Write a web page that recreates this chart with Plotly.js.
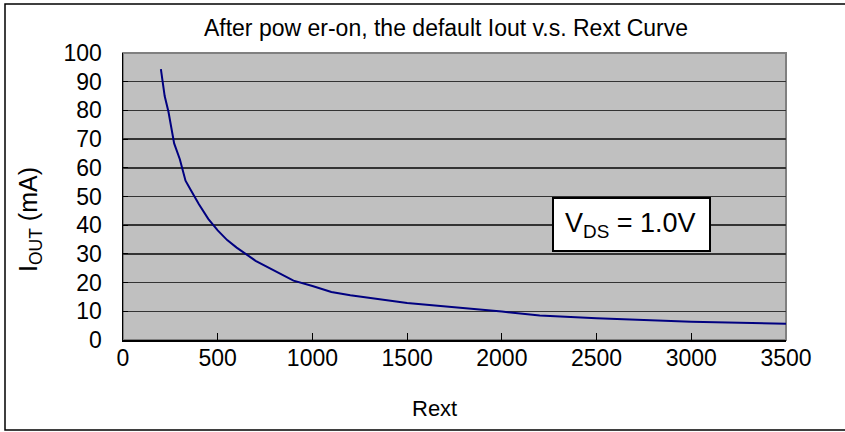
<!DOCTYPE html>
<html>
<head>
<meta charset="utf-8">
<script src="https://cdn.plot.ly/plotly-3.0.1.min.js"></script>
<style>html,body{margin:0;padding:0;background:#fff;overflow:hidden;}#chart{width:845px;height:432px;}</style>
</head>
<body>
<div id="chart"></div>
<script>
// Data
const rext = [200, 220, 240, 270, 300, 330, 360, 400, 450, 500, 550, 600, 700, 800, 850, 900, 1000, 1100, 1200, 1500, 2000, 2200, 2500, 3000, 3500];
const ioutMA = [94.4, 85, 79.5, 68.5, 63, 55.5, 52, 47.4, 42.2, 38.2, 34.8, 32.2, 27.6, 24.2, 22.3, 20.7, 18.8, 16.7, 15.6, 12.9, 9.9, 8.5, 7.6, 6.4, 5.7];
const xTicks = [0, 500, 1000, 1500, 2000, 2500, 3000, 3500];
const yTicks = [0, 10, 20, 30, 40, 50, 60, 70, 80, 90, 100];
const chartTitle = 'After pow er-on, the default Iout v.s. Rext Curve';
const xTitle = 'Rext';
const yTitle = 'I<sub>OUT</sub> (mA)';
const noteText = 'V<sub>DS</sub> = 1.0V';

const FONT = 'Liberation Sans, Arial, sans-serif';
const L = 123, R = 59, T = 53, B = 92;
const PW = 845 - L - R, PH = 432 - T - B;
const px = x => (x - L) / PW;
const py = y => (432 - B - y) / PH;

const trace = {
  x: rext, y: ioutMA, type: 'scatter', mode: 'lines',
  line: {color: '#000080', width: 2},
  hoverinfo: 'skip'
};

const layout = {
  width: 845, height: 432,
  margin: {l: L, r: R, t: T, b: B, pad: 0},
  paper_bgcolor: '#ffffff',
  plot_bgcolor: '#c0c0c0',
  showlegend: false,
  font: {family: FONT, color: '#000', size: 22},
  title: {text: chartTitle, font: {family: FONT, size: 23, color: '#000'},
          xref: 'paper', x: px(446), xanchor: 'center', yref: 'container', y: 1 - 28/432, yanchor: 'middle'},
  xaxis: {
    range: [0, 3500], tickvals: xTicks, ticktext: xTicks.map(String),
    showgrid: false, zeroline: false,
    showline: true, linecolor: '#000', linewidth: 1.5,
    ticks: 'inside', ticklen: 7, tickcolor: '#000', tickwidth: 1,
    tickfont: {family: FONT, size: 23, color: '#000'},
    ticklabelstandoff: -3
  },
  yaxis: {
    range: [0, 100], tickvals: yTicks, ticktext: yTicks.map(String),
    showgrid: true, gridcolor: '#333333', gridwidth: 1.5, zeroline: false,
    showline: true, linecolor: '#000', linewidth: 1.5,
    ticks: 'inside', ticklen: 5, tickcolor: '#000', tickwidth: 1,
    tickfont: {family: FONT, size: 23, color: '#000'},
    ticklabelstandoff: 15
  },
  shapes: [
    {type: 'rect', xref: 'paper', yref: 'paper', x0: 0, x1: 1, y0: 0, y1: 1,
     line: {color: '#808080', width: 2}, fillcolor: 'rgba(0,0,0,0)', layer: 'below'},
    {type: 'rect', xref: 'paper', yref: 'paper', x0: px(5), x1: px(1000), y0: py(430), y1: py(4),
     line: {color: '#000', width: 1.5}, fillcolor: 'rgba(0,0,0,0)'},
    {type: 'rect', xref: 'paper', yref: 'paper', x0: px(553), x1: px(710), y0: py(251), y1: py(198),
     line: {color: '#000', width: 2}, fillcolor: '#ffffff'}
  ],
  annotations: [
    {text: noteText, xref: 'paper', yref: 'paper', x: px(630), y: py(225), xanchor: 'center', yanchor: 'middle',
     showarrow: false, font: {family: FONT, size: 27, color: '#000'}},
    {text: xTitle, xref: 'paper', yref: 'paper', x: px(434), y: py(408), xanchor: 'center', yanchor: 'middle',
     showarrow: false, font: {family: FONT, size: 22, color: '#000'}},
    {text: yTitle, xref: 'paper', yref: 'paper', x: px(30), y: py(220), xanchor: 'center', yanchor: 'middle',
     textangle: -90, showarrow: false, font: {family: FONT, size: 25, color: '#000'}}
  ]
};

Plotly.newPlot('chart', [trace], layout, {displayModeBar: false, staticPlot: true});
</script>
</body>
</html>
